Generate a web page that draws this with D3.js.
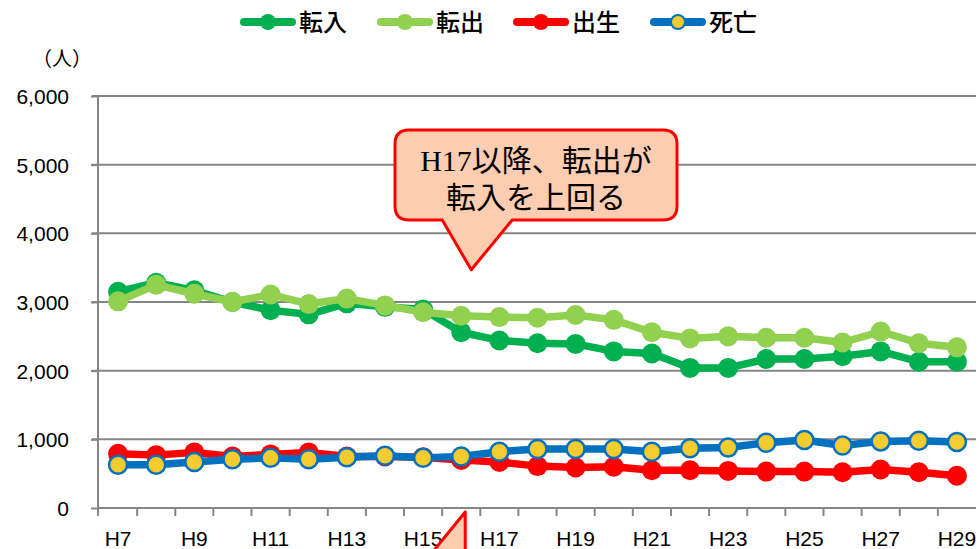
<!DOCTYPE html>
<html>
<head>
<meta charset="utf-8">
<script src="https://cdn.jsdelivr.net/npm/d3@7"></script>
<style>
body { margin: 0; padding: 0; background: #fff; }
svg { display: block; }
.grid line { stroke: #868686; stroke-width: 2px; }
.axis path, .axis line { stroke: #868686; stroke-width: 2px; }
.axis text { font-family: "Liberation Sans", Arial, sans-serif; font-size: 21px; fill: #000; }
.legend text { font-family: "Noto Sans CJK JP", sans-serif; font-size: 24px; font-weight: 500; fill: #000; }
</style>
</head>
<body>
<svg></svg>
<script>
var years = ['H7','H8','H9','H10','H11','H12','H13','H14','H15','H16','H17','H18',
  'H19','H20','H21','H22','H23','H24','H25','H26','H27','H28','H29'];

var tennyu = [3150, 3280, 3170, 3000, 2880, 2820, 2980, 2930, 2890, 2560, 2440, 2400,
  2390, 2280, 2250, 2040, 2040, 2170, 2170, 2210, 2280, 2130, 2130];
var tenshutsu = [3010, 3250, 3120, 3000, 3110, 2970, 3050, 2950, 2850, 2800, 2780, 2770,
  2810, 2740, 2560, 2470, 2500, 2480, 2480, 2410, 2570, 2400, 2340];
var shussei = [790, 770, 810, 750, 780, 810, 750, 750, 740, 700, 670, 610,
  590, 600, 550, 550, 540, 530, 530, 520, 560, 520, 470];
var shibou = [630, 630, 670, 710, 730, 710, 740, 760, 730, 750, 820, 860,
  860, 860, 820, 870, 880, 950, 990, 910, 970, 980, 960];

var yTicks = [0, 1000, 2000, 3000, 4000, 5000, 6000];

var series = [
  { name: '転入', values: tennyu, line: '#00B050', fill: '#00B050', stroke: 'none' },
  { name: '転出', values: tenshutsu, line: '#92D050', fill: '#92D050', stroke: 'none' },
  { name: '出生', values: shussei, line: '#FF0000', fill: '#FF0000', stroke: 'none' },
  { name: '死亡', values: shibou, line: '#0070C0', fill: '#F4CC30', stroke: '#0070C0' }
];

var width = 979, height = 549;
var mLeft = 99, mRight = 976, mTop = 96, mBottom = 508;

var svg = d3.select('svg').attr('width', width).attr('height', height);

var x = d3.scaleBand().domain(years).range([mLeft, mRight]);
var y = d3.scaleLinear().domain([0, 6000]).range([mBottom, mTop]);
var cx = function(d) { return x(d) + x.bandwidth() / 2; };

// gridlines
svg.append('g').attr('class', 'grid')
  .selectAll('line').data(yTicks.filter(function(d) { return d > 0; }))
  .enter().append('line')
  .attr('x1', mLeft - 7).attr('x2', mRight)
  .attr('y1', function(d) { return y(d); })
  .attr('y2', function(d) { return y(d); });

// y axis
var yAxis = svg.append('g').attr('class', 'axis')
  .attr('transform', 'translate(' + (mLeft - 1) + ',0)')
  .call(d3.axisLeft(y).tickValues(yTicks).tickSize(7).tickPadding(22)
    .tickFormat(d3.format(',')));
yAxis.select('.domain').attr('d', 'M0,' + mTop + 'V' + (mBottom + 8));
yAxis.selectAll('text').attr('dy', '0.35em');

// x axis
var xAxis = svg.append('g').attr('class', 'axis')
  .attr('transform', 'translate(0,' + mBottom + ')')
  .call(d3.axisBottom(x).tickSize(0).tickPadding(22)
    .tickFormat(function(d, i) { return i % 2 === 0 ? d : ''; }));
xAxis.select('.domain').attr('d', 'M' + (mLeft - 1) + ',0H' + mRight);
xAxis.selectAll('text').attr('dy', '0.75em');
xAxis.append('g').selectAll('line').data(years.slice(1))
  .enter().append('line')
  .attr('x1', function(d) { return x(d); })
  .attr('x2', function(d) { return x(d); })
  .attr('y1', 0).attr('y2', 8);

// unit label
svg.append('text')
  .attr('x', 62).attr('y', 66)
  .attr('text-anchor', 'middle')
  .style('font-family', '"Noto Sans CJK JP", sans-serif')
  .style('font-size', '20px')
  .text('（人）');

// lines and markers
var line = d3.line()
  .x(function(d, i) { return cx(years[i]); })
  .y(function(d) { return y(d); });

series.forEach(function(s) {
  var g = svg.append('g');
  g.append('path')
    .attr('d', line(s.values))
    .attr('fill', 'none')
    .attr('stroke', s.line)
    .attr('stroke-width', 7.5)
    .attr('stroke-linejoin', 'round');
  g.selectAll('circle').data(s.values)
    .enter().append('circle')
    .attr('cx', function(d, i) { return cx(years[i]); })
    .attr('cy', function(d) { return y(d); })
    .attr('r', s.stroke === 'none' ? 10 : 9)
    .attr('fill', s.fill)
    .attr('stroke', s.stroke)
    .attr('stroke-width', s.stroke === 'none' ? 0 : 2.5);
});

// legend
var legendX = [240, 377, 513, 650];
var legend = svg.append('g').attr('class', 'legend');
series.forEach(function(s, i) {
  var lg = legend.append('g').attr('transform', 'translate(' + legendX[i] + ',22)');
  lg.append('line')
    .attr('x1', 4).attr('x2', 52).attr('y1', 0).attr('y2', 0)
    .attr('stroke', s.line).attr('stroke-width', 8).attr('stroke-linecap', 'round');
  lg.append('circle')
    .attr('cx', 28).attr('cy', 0).attr('r', s.stroke === 'none' ? 8 : 7)
    .attr('fill', s.fill).attr('stroke', s.stroke).attr('stroke-width', 2);
  lg.append('text').attr('x', 59).attr('y', 0).attr('dy', '0.36em').text(s.name);
});

// callout
var bx0 = 395, bx1 = 677, by0 = 130, by1 = 220, r = 14;
var tipX = cx('H16') + 10, tipY = y(3470);
var callout = 'M' + (bx0 + r) + ',' + by0 + 'H' + (bx1 - r) +
  'Q' + bx1 + ',' + by0 + ' ' + bx1 + ',' + (by0 + r) +
  'V' + (by1 - r) + 'Q' + bx1 + ',' + by1 + ' ' + (bx1 - r) + ',' + by1 +
  'H' + (tipX + 41) + 'L' + tipX + ',' + tipY + 'L' + (tipX - 29) + ',' + by1 +
  'H' + (bx0 + r) + 'Q' + bx0 + ',' + by1 + ' ' + bx0 + ',' + (by1 - r) +
  'V' + (by0 + r) + 'Q' + bx0 + ',' + by0 + ' ' + (bx0 + r) + ',' + by0 + 'Z';
svg.append('path').attr('d', callout)
  .attr('fill', '#FCCDB0').attr('stroke', '#FF0000').attr('stroke-width', 3)
  .attr('stroke-linejoin', 'round');

var calloutText = svg.append('text')
  .attr('text-anchor', 'middle')
  .style('font-family', '"Liberation Serif", "Noto Sans CJK JP", serif')
  .style('font-size', '30px')
  .style('fill', '#000');
calloutText.append('tspan').attr('x', (bx0 + bx1) / 2).attr('y', 171).text('H17以降、転出が');
calloutText.append('tspan').attr('x', (bx0 + bx1) / 2).attr('y', 208).text('転入を上回る');

// tail of the lower callout (cut off by the frame)
var t2x = cx('H16') + 4, t2y = mBottom + 4;
svg.append('path')
  .attr('d', 'M' + (t2x - 40) + ',' + (height + 12) + 'L' + t2x + ',' + t2y + 'L' + t2x + ',' + (height + 12) + 'Z')
  .attr('fill', '#FCCDB0').attr('stroke', '#FF0000').attr('stroke-width', 3)
  .attr('stroke-linejoin', 'round');
</script>
</body>
</html>
